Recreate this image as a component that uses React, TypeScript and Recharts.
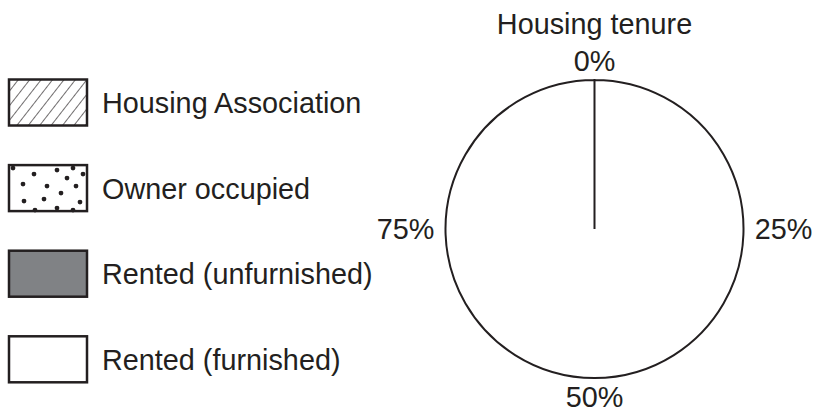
import React from 'react';
import { PieChart, Pie, Cell, Legend } from 'recharts';

const title = 'Housing tenure';
const categories = ['Housing Association', 'Owner occupied', 'Rented (unfurnished)', 'Rented (furnished)'];
const categoryFills = ['url(#hatch)', 'url(#dots)', '#808285', '#ffffff'];
const outlineData = [{ name: 'Unallocated', value: 100 }];
const tickLabels = ['0%', '25%', '50%', '75%'];
const tickData = tickLabels.map((name) => ({ name, value: 25 }));

const FONT = '"Liberation Sans", Arial, Helvetica, sans-serif';
const INK = '#231f20';
const FS = 28.8;

const dots: [number, number][] = [
  [25, 8], [48, 4], [64, 2], [74, 8], [14, 18], [58, 12], [38, 20], [67, 20],
  [52, 27], [15, 35], [35, 33], [71, 36], [48, 42], [64, 44], [26, 44], [4, 2],
];

const renderTick = (props: any) => {
  const { cx, cy, midAngle, outerRadius, index } = props;
  const rad = (-midAngle * Math.PI) / 180;
  const x = cx + Math.cos(rad) * (outerRadius + 40);
  const y = cy + Math.sin(rad) * (outerRadius + 19);
  return (
    <text key={`t${index}`} x={x} y={y + 10} textAnchor="middle" fontSize={FS} fontFamily={FONT} fill={INK}>
      {tickLabels[index]}
    </text>
  );
};

const LegendContent = () => {
  const boxX = 9;
  const boxW = 78;
  const boxH = 46;
  return (
    <svg width={400} height={414} style={{ display: 'block' }}>
      <defs>
        <pattern id="hatch" patternUnits="userSpaceOnUse" width={9} height={9} patternTransform="rotate(38)">
          <line x1={0} y1={-2} x2={0} y2={11} stroke={INK} strokeWidth={1.3} />
        </pattern>
      </defs>
      {categories.map((c, i) => {
        const y0 = 79.5 + i * 85.6;
        return (
          <g key={c}>
            <rect x={boxX} y={y0} width={boxW} height={boxH} fill={categoryFills[i]} />
            {i === 1 &&
              dots.map(([dx, dy], k) => (
                <circle key={k} cx={boxX + dx} cy={y0 + dy + 1} r={2.4} fill={INK} />
              ))}
            <rect x={boxX} y={y0} width={boxW} height={boxH} fill="none" stroke={INK} strokeWidth={2.5} />
            <text x={102} y={y0 + boxH / 2 + 10.5} fontSize={FS} fontFamily={FONT} fill={INK}>
              {c}
            </text>
          </g>
        );
      })}
    </svg>
  );
};

export default function App() {
  return (
    <div style={{ position: 'absolute', left: 0, top: 0, width: 818, height: 414, background: '#fff' }}>
      <PieChart width={818} height={414} margin={{ top: 0, right: 0, bottom: 0, left: 0 }}>
        <Legend
          content={() => <LegendContent />}
          wrapperStyle={{ position: 'absolute', left: 0, top: 0, width: 400, height: 414 }}
        />
        <Pie
          data={outlineData}
          dataKey="value"
          nameKey="name"
          cx={594.5}
          cy={229}
          innerRadius={0}
          outerRadius={149}
          startAngle={90}
          endAngle={-270}
          isAnimationActive={false}
          stroke={INK}
          strokeWidth={2}
          fill="#ffffff"
          legendType="none"
        >
          {outlineData.map((d) => (
            <Cell key={d.name} fill="#ffffff" stroke={INK} strokeWidth={2} />
          ))}
        </Pie>
        <Pie
          data={tickData}
          dataKey="value"
          nameKey="name"
          cx={594.5}
          cy={229}
          innerRadius={0}
          outerRadius={149}
          startAngle={135}
          endAngle={-225}
          isAnimationActive={false}
          fill="none"
          stroke="none"
          label={renderTick}
          labelLine={false}
          legendType="none"
        >
          {tickData.map((d) => (
            <Cell key={d.name} fill="none" stroke="none" />
          ))}
        </Pie>
        <text x={594.5} y={34} textAnchor="middle" fontSize={FS} fontFamily={FONT} fill={INK}>
          {title}
        </text>
      </PieChart>
    </div>
  );
}
